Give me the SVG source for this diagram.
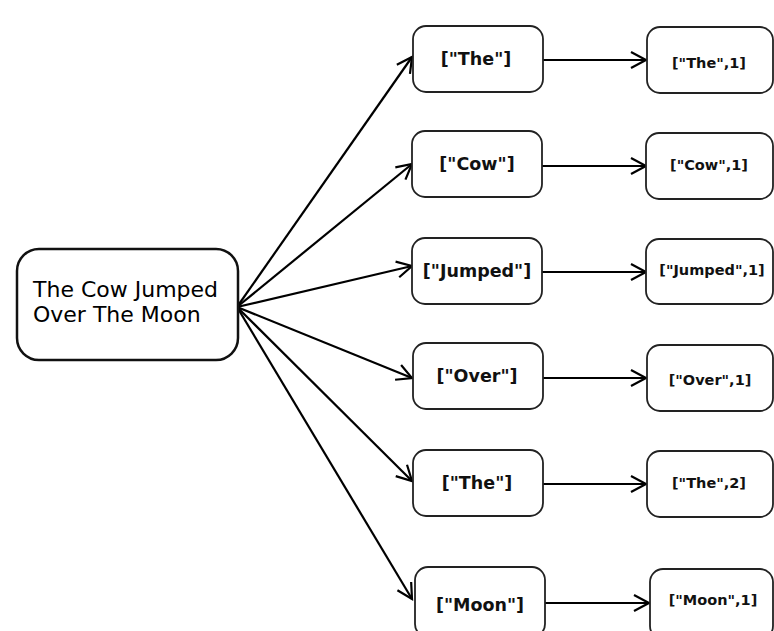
<svg xmlns="http://www.w3.org/2000/svg" width="774" height="631" viewBox="0 0 774 631">
<defs>
<marker id="arr" markerUnits="userSpaceOnUse" markerWidth="22" markerHeight="22" viewBox="-2 -2 22 22" refX="15" refY="8" orient="auto">
<path d="M0,0 L15,8 L0,16" fill="none" stroke="#000" stroke-width="2.2"/>
</marker>
</defs>
<style>
.box{fill:#fff;stroke:#222;stroke-width:1.8}
.big{fill:#fff;stroke:#111;stroke-width:2.5}
.mid{font-family:"DejaVu Sans",sans-serif;font-weight:bold;font-size:17.5px;text-anchor:middle;fill:#111}
.res{font-family:"DejaVu Sans",sans-serif;font-weight:bold;font-size:14.5px;text-anchor:middle;fill:#111}
.src{font-family:"DejaVu Sans",sans-serif;font-size:22px;fill:#000}
.c{stroke:#000;stroke-width:2.2;fill:none;marker-end:url(#arr)}
</style>
<rect width="774" height="631" fill="#fff"/>
<g id="connectors">
<line class="c" x1="237" y1="307" x2="412" y2="57"/>
<line class="c" x1="237" y1="307" x2="412" y2="164"/>
<line class="c" x1="237" y1="307" x2="412" y2="266"/>
<line class="c" x1="237" y1="307" x2="412" y2="378"/>
<line class="c" x1="237" y1="307" x2="412" y2="481"/>
<line class="c" x1="237" y1="307" x2="412" y2="599"/>
<line class="c" x1="543" y1="60" x2="646" y2="60"/>
<line class="c" x1="542" y1="166" x2="646" y2="166"/>
<line class="c" x1="542" y1="272" x2="646" y2="272"/>
<line class="c" x1="543" y1="378" x2="646" y2="378"/>
<line class="c" x1="543" y1="484" x2="646" y2="484"/>
<line class="c" x1="545" y1="603" x2="649" y2="603"/>
</g>
<g id="source">
<rect class="big" x="17" y="249" width="221" height="111" rx="22"/>
<text class="src" x="33" y="297">The Cow Jumped</text>
<text class="src" x="33" y="322">Over The Moon</text>
</g>
<g id="m1"><rect class="box" x="413" y="26" width="130" height="66" rx="13"/><text class="mid" x="476" y="65">["The"]</text></g>
<g id="m2"><rect class="box" x="412" y="131" width="130" height="66" rx="13"/><text class="mid" x="477" y="170">["Cow"]</text></g>
<g id="m3"><rect class="box" x="412" y="238" width="130" height="66" rx="13"/><text class="mid" x="477" y="277">["Jumped"]</text></g>
<g id="m4"><rect class="box" x="413" y="343" width="130" height="66" rx="13"/><text class="mid" x="477" y="382">["Over"]</text></g>
<g id="m5"><rect class="box" x="413" y="450" width="130" height="66" rx="13"/><text class="mid" x="477" y="489">["The"]</text></g>
<g id="m6"><rect class="box" x="415" y="567" width="130" height="70" rx="13"/><text class="mid" x="480" y="611">["Moon"]</text></g>
<g id="r1"><rect class="box" x="647" y="27" width="126" height="66" rx="13"/><text class="res" x="709" y="68">["The",1]</text></g>
<g id="r2"><rect class="box" x="646" y="133" width="127" height="66" rx="13"/><text class="res" x="709" y="170">["Cow",1]</text></g>
<g id="r3"><rect class="box" x="646" y="239" width="127" height="65" rx="13"/><text class="res" x="712" y="275">["Jumped",1]</text></g>
<g id="r4"><rect class="box" x="647" y="345" width="126" height="66" rx="13"/><text class="res" x="710" y="385">["Over",1]</text></g>
<g id="r5"><rect class="box" x="647" y="451" width="126" height="66" rx="13"/><text class="res" x="709" y="488">["The",2]</text></g>
<g id="r6"><rect class="box" x="650" y="569" width="123" height="70" rx="13"/><text class="res" x="713" y="605">["Moon",1]</text></g>
</svg>
